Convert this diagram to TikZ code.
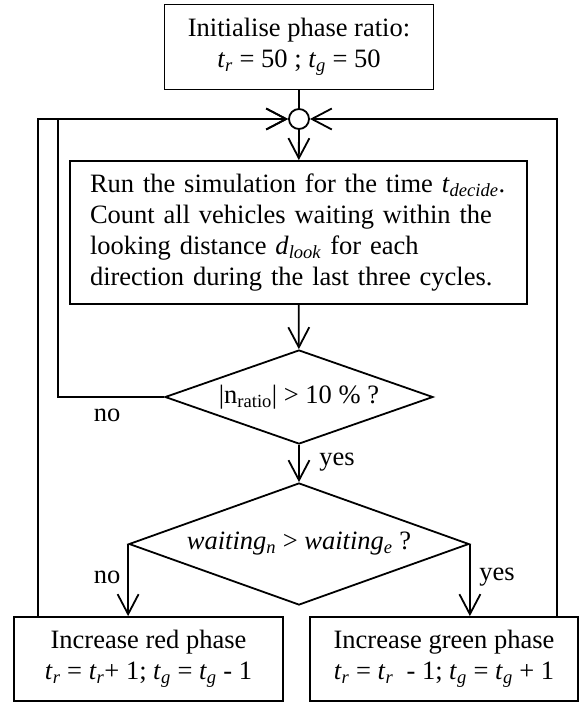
\documentclass[tikz,border=0pt]{standalone}
\usepackage{fontspec}
\setmainfont{Liberation Serif}
\usetikzlibrary{arrows.meta,shapes.geometric,positioning}
\newcommand{\ivar}[2]{\textit{#1}\textsubscript{\textit{#2}}}

\begin{document}
\begin{tikzpicture}[x=1pt, y=-1pt, line width=1.8pt,
    txt/.style={font=\fontsize{26.5}{31}\selectfont},
    box/.style={draw, txt, align=center, inner sep=0pt},
    decision/.style={draw, txt, diamond, inner sep=0pt},
    arr/.style={-{Straight Barb[length=20pt,width=21pt]}}]
    \useasboundingbox (0,0) rectangle (579,702);

    % Start
    \node[box, minimum width=269pt, minimum height=85pt] (init) at (299,47)
        {Initialise phase ratio:\\ \ivar{t}{r} = 50 ; \ivar{t}{g} = 50};
    \node[draw, circle, minimum size=20pt, inner sep=0pt] (join) at (299,119) {};

    % Simulation step
    \node[box, minimum width=457pt, minimum height=143pt, text width=417pt, align=left] (sim) at (298.5,232.5)
        {Run the simulation for the time \ivar{t}{decide}.\\
         Count all vehicles waiting within the\\
         looking distance \ivar{d}{look} for each\\
         direction during the last three cycles.};

    % Decisions
    \node[decision, shape aspect=2.85, minimum width=268pt, minimum height=94pt] (ratio) at (299,397)
        {|n\textsubscript{ratio}| > 10 \% ?};
    \node[decision, shape aspect=2.79, minimum width=340pt, minimum height=122pt] (wait) at (299,544)
        {\ivar{waiting}{n} > \ivar{waiting}{e} ?};

    % Results
    \node[box, minimum width=269pt, minimum height=84pt] (red) at (148.5,659)
        {Increase red phase\\ \ivar{t}{r} = \ivar{t}{r}+ 1; \ivar{t}{g} = \ivar{t}{g} - 1};
    \node[box, minimum width=268pt, minimum height=84pt] (green) at (444,659)
        {Increase green phase\\ \ivar{t}{r} = \ivar{t}{r}~ - 1; \ivar{t}{g} = \ivar{t}{g} + 1};

    % Labels
    \node[txt] (no1) at (107,415) {no};
    \node[txt] (yes1) at (337,462) {yes};
    \node[txt] (no2) at (107,577) {no};
    \node[txt] (yes2) at (497,577) {yes};

    % Main flow
    \draw (init) -- (join);
    \draw[arr] (join) -- (sim);
    \draw[arr] (sim) -- (ratio);
    \draw[arr] (ratio) -- (wait);
    \draw[arr] (wait.west) -- (wait.west |- red.north);
    \draw[arr] (wait.east) -- (wait.east |- green.north);

    % Loops back
    \draw[arr] (ratio.west) -- ++(-106,0) |- (join.west);
    \draw[arr] ([xshift=25pt]red.north west) |- (join.west);
    \draw[arr] ([xshift=-22pt]green.north east) |- (join.east);
\end{tikzpicture}
\end{document}
